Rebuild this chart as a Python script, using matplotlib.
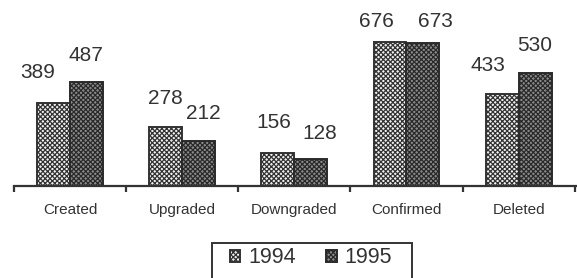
import numpy as np
import matplotlib.pyplot as plt
from matplotlib.patches import Rectangle

# categories and yearly counts
categories = ["Created", "Upgraded", "Downgraded", "Confirmed", "Deleted"]
v1994 = [389, 278, 156, 676, 433]
v1995 = [487, 212, 128, 673, 530]
years = ["1994", "1995"]

# hand-placed label nudges (pixels) as in the original
dx1994 = [-16, 0, -4, -14, -14]
dx1995 = [0, 5, 9, 12, 0]
dy1994 = [25, 23, 25, 15, 23]
dy1995 = [21, 22, 20, 16, 22]

plt.rcParams['font.family'] = ['Liberation Sans', 'DejaVu Sans']
plt.rcParams['hatch.linewidth'] = 0.9

fig = plt.figure(figsize=(5.77, 2.78), dpi=100)
ax = fig.add_axes([0.024, 0.331, 0.976, 0.669])

x = np.arange(len(categories))
w = 0.294
b1 = ax.bar(x - w / 2, v1994, w, facecolor="#f2f2f2", edgecolor="#333333",
            hatch="xxxxxxx", linewidth=1.4, label=years[0])
b2 = ax.bar(x + w / 2, v1995, w, facecolor="#8c8c8c", edgecolor="#2a2a2a",
            hatch="xxxxxxx", linewidth=1.4, label=years[1])

for bars, dxs, dys in ((b1, dx1994, dy1994), (b2, dx1995, dy1995)):
    for r, ddx, ddy in zip(bars, dxs, dys):
        ax.annotate(f"{int(r.get_height())}", (r.get_x() + r.get_width() / 2, r.get_height()),
                    xytext=(ddx, ddy), textcoords="offset pixels", ha="center", va="baseline",
                    fontsize=15, color="#333333")

ax.set_xlim(-0.5, 4.52)
ax.set_ylim(0, 873)
ax.set_yticks([])
for s in ["left", "right", "top"]:
    ax.spines[s].set_visible(False)
ax.spines["bottom"].set_linewidth(1.6)
ax.spines["bottom"].set_color("#333333")

ax.set_xticks(x)
ax.set_xticklabels(categories, fontsize=11, color="#333333")
ax.tick_params(axis="x", which="major", length=0, pad=12)
ax.set_xticks(np.arange(-0.5, 5, 1), minor=True)
ax.tick_params(axis="x", which="minor", length=4, width=1.6, color="#333333")

# legend entries without frame, box drawn separately (it runs off the bottom edge)
fig.legend(loc="center", bbox_to_anchor=(0.539, 0.072), ncol=2, fontsize=15.5,
           frameon=False, handlelength=0.5, handleheight=0.5, handletextpad=0.37,
           columnspacing=1.4, borderpad=0, borderaxespad=0, labelcolor="#333333")
fig.patches.append(Rectangle((0.3674, -0.05), 0.3466, 0.176, transform=fig.transFigure,
                             fill=False, edgecolor="#333333", linewidth=1.4))

fig.savefig("out.png", dpi=100)
